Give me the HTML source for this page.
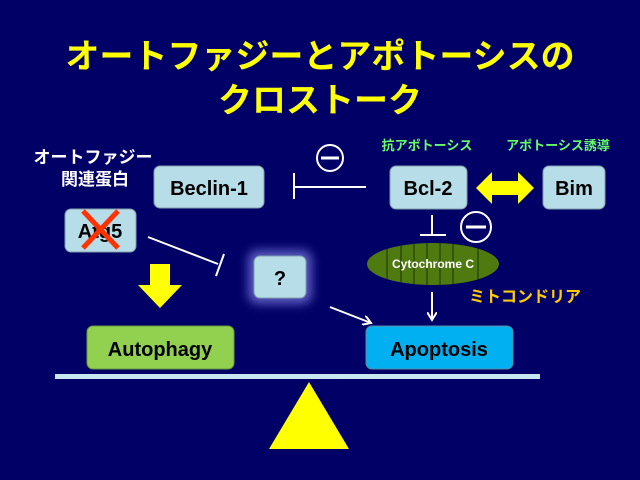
<!DOCTYPE html>
<html><head><meta charset="utf-8"><style>
html,body{margin:0;padding:0;background:#000066;}
svg{display:block;}
text{font-family:"Liberation Sans","Noto Sans CJK JP",sans-serif;font-weight:bold;}
</style></head><body>
<svg width="640" height="480" viewBox="0 0 640 480">
<defs>
<filter id="glow" x="-50%" y="-50%" width="200%" height="200%"><feGaussianBlur stdDeviation="5"/></filter>
<marker id="ah" markerWidth="10" markerHeight="10" refX="8" refY="5" orient="auto" markerUnits="userSpaceOnUse"><path d="M0,0 L8,5 L0,10" fill="none" stroke="#fff" stroke-width="2"/></marker>
</defs>
<rect width="640" height="480" fill="#000066"/>
<text x="320" y="68" font-size="34" fill="#ffff00" text-anchor="middle">オートファジーとアポトーシスの</text>
<text x="320" y="112" font-size="34" fill="#ffff00" text-anchor="middle">クロストーク</text>

<text x="93" y="163" font-size="17" fill="#fff" text-anchor="middle">オートファジー</text>
<text x="95" y="185" font-size="17" fill="#fff" text-anchor="middle">関連蛋白</text>
<text x="427" y="150" font-size="13" fill="#66ff66" text-anchor="middle">抗アポトーシス</text>
<text x="558" y="150" font-size="13" fill="#66ff66" text-anchor="middle">アポトーシス誘導</text>

<rect x="154" y="166" width="110" height="42" rx="6" fill="#b7dde8" stroke="#7f9fa8"/>
<text x="209" y="195" font-size="20" fill="#000" text-anchor="middle">Beclin-1</text>
<rect x="390" y="166" width="77" height="43" rx="6" fill="#b7dde8" stroke="#7f9fa8"/>
<text x="428" y="195" font-size="20" fill="#000" text-anchor="middle">Bcl-2</text>
<rect x="543" y="166" width="62" height="43" rx="6" fill="#b7dde8" stroke="#7f9fa8"/>
<text x="574" y="195" font-size="20" fill="#000" text-anchor="middle">Bim</text>

<line x1="294" y1="173" x2="294" y2="199" stroke="#fff" stroke-width="2"/>
<line x1="294" y1="187" x2="366" y2="187" stroke="#fff" stroke-width="2"/>
<circle cx="330" cy="158" r="13" fill="none" stroke="#fff" stroke-width="2"/>
<line x1="321" y1="158" x2="339" y2="158" stroke="#fff" stroke-width="3"/>

<polygon points="476,188 492,172 492,181 518,181 518,172 534,188 518,204 518,195 492,195 492,204" fill="#ffff00"/>

<rect x="65" y="209" width="71" height="43" rx="6" fill="#b7dde8" stroke="#7f9fa8"/>
<text x="100" y="238" font-size="20" fill="#000" text-anchor="middle">Atg5</text>
<line x1="83" y1="211" x2="118" y2="248" stroke="#ff3300" stroke-width="5"/>
<line x1="118" y1="211" x2="83" y2="248" stroke="#ff3300" stroke-width="5"/>

<line x1="148" y1="237" x2="218" y2="264" stroke="#fff" stroke-width="2"/>
<line x1="224" y1="254" x2="216" y2="276" stroke="#fff" stroke-width="2"/>

<rect x="248" y="250" width="64" height="54" rx="10" fill="#9999ff" opacity="0.6" filter="url(#glow)"/>
<rect x="254" y="256" width="52" height="42" rx="6" fill="#b7dde8" stroke="#7f9fa8"/>
<text x="280" y="285" font-size="20" fill="#000" text-anchor="middle">?</text>

<line x1="432" y1="215" x2="432" y2="235" stroke="#fff" stroke-width="2"/>
<line x1="420" y1="235" x2="446" y2="235" stroke="#fff" stroke-width="2"/>
<circle cx="476" cy="227" r="15" fill="none" stroke="#fff" stroke-width="2"/>
<line x1="466" y1="227" x2="486" y2="227" stroke="#fff" stroke-width="3"/>

<clipPath id="ec"><ellipse cx="433" cy="264" rx="66" ry="21"/></clipPath>
<ellipse cx="433" cy="264" rx="66" ry="21" fill="#4f7a0f"/>
<g clip-path="url(#ec)" stroke="#1a3300" stroke-width="1">
<line x1="387" y1="240" x2="387" y2="290"/><line x1="401" y1="240" x2="401" y2="290"/>
<line x1="414" y1="240" x2="414" y2="290"/><line x1="427" y1="240" x2="427" y2="290"/>
<line x1="440" y1="240" x2="440" y2="290"/><line x1="453" y1="240" x2="453" y2="290"/>
<line x1="478" y1="240" x2="478" y2="290"/>
</g>
<text x="433" y="268" font-size="12" fill="#fff" text-anchor="middle">Cytochrome C</text>
<text x="525" y="302" font-size="16" fill="#ffcc00" text-anchor="middle">ミトコンドリア</text>

<line x1="432" y1="292" x2="432" y2="320" stroke="#fff" stroke-width="2" marker-end="url(#ah)"/>
<line x1="330" y1="307" x2="371" y2="323" stroke="#fff" stroke-width="2" marker-end="url(#ah)"/>

<polygon points="150,264 170,264 170,285 182,285 160,308 138,285 150,285" fill="#ffff00"/>

<rect x="87" y="326" width="147" height="43" rx="6" fill="#92d050" stroke="#6a9a3a"/>
<text x="160" y="356" font-size="20" fill="#000" text-anchor="middle">Autophagy</text>
<rect x="366" y="326" width="147" height="43" rx="6" fill="#00b0f0" stroke="#5a8aa8"/>
<text x="439" y="356" font-size="20" fill="#000" text-anchor="middle">Apoptosis</text>

<rect x="55" y="374" width="485" height="5" fill="#c6e6f0"/>
<polygon points="309,382 349,449 269,449" fill="#ffff00"/>
</svg>
</body></html>
